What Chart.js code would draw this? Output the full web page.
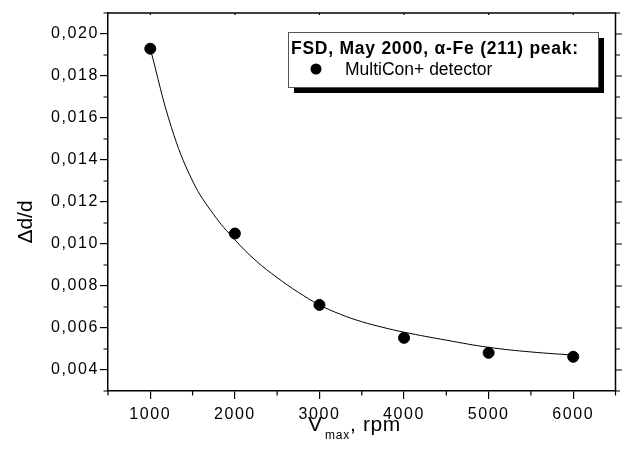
<!DOCTYPE html>
<html>
<head>
<meta charset="utf-8">
<script src="https://cdn.jsdelivr.net/npm/chart.js@4/dist/chart.umd.min.js"></script>
<style>
  html, body { margin: 0; padding: 0; background: #fff; }
  canvas { display: block; }
</style>
</head>
<body>
<canvas id="chart" width="622" height="463"></canvas>
<script>
// --- data ---
const rpm = [1000, 2000, 3000, 4000, 5000, 6000];
const deltaD = [0.0193, 0.0105, 0.0071, 0.00553, 0.00482, 0.00463];

// fitted curve
const fitRpm = [1000, 1250, 1500, 1750, 2000, 2250, 2500, 2750, 3000, 3250, 3500, 3750, 4000, 4500, 5000, 5500, 6000];
const fitDd = [0.0193, 0.01555, 0.0130, 0.0114, 0.0102, 0.0092, 0.0084, 0.0077, 0.0071, 0.00665, 0.0063, 0.00603, 0.0058, 0.00542, 0.00508, 0.00486, 0.00471];

const xTicks = [1000, 2000, 3000, 4000, 5000, 6000];
const xMinor = [500, 1500, 2500, 3500, 4500, 5500, 6500];
const yTicks = [0.004, 0.006, 0.008, 0.010, 0.012, 0.014, 0.016, 0.018, 0.020];
const yMinor = [0.003, 0.005, 0.007, 0.009, 0.011, 0.013, 0.015, 0.017, 0.019, 0.021];

const FONT = "'Liberation Sans', Arial, sans-serif";

// frame, minor ticks, titles and the boxed legend
const framePlugin = {
    id: 'frame',
    beforeDraw(chart) {
        chart.ctx.letterSpacing = '1.6px';
    },
    beforeDatasetsDraw(chart) {
        chart.ctx.letterSpacing = '0px';
    },
    afterDraw(chart) {
        const { ctx, chartArea: a, scales: { x, y } } = chart;
        ctx.save();
        ctx.strokeStyle = '#000';
        ctx.lineWidth = 1.5;
        ctx.beginPath();
        ctx.moveTo(a.left, a.top); ctx.lineTo(a.right, a.top); ctx.lineTo(a.right, a.bottom);
        ctx.stroke();

        ctx.lineWidth = 1.2;
        ctx.beginPath();
        xMinor.forEach(v => {
            const px = x.getPixelForValue(v);
            ctx.moveTo(px, a.bottom); ctx.lineTo(px, a.bottom + 4.5);
        });
        yMinor.forEach(v => {
            const py = y.getPixelForValue(v);
            ctx.moveTo(a.left - 4.5, py); ctx.lineTo(a.left, py);
            ctx.moveTo(a.right, py); ctx.lineTo(a.right + 4.5, py);
        });
        yTicks.forEach(v => {
            const py = y.getPixelForValue(v);
            ctx.moveTo(a.right, py); ctx.lineTo(a.right + 8, py);
        });
        xTicks.forEach(v => {
            const px = x.getPixelForValue(v);
            ctx.moveTo(px, a.top); ctx.lineTo(px, a.top + 2);
        });
        ctx.stroke();

        ctx.fillStyle = '#000';
        ctx.letterSpacing = '0px';

        // y title
        ctx.save();
        ctx.translate(26, 222);
        ctx.rotate(-Math.PI / 2);
        ctx.font = '21px ' + FONT;
        ctx.textAlign = 'center';
        ctx.textBaseline = 'middle';
        ctx.fillText('\u0394d/d', 0, 0);
        ctx.restore();

        // x title with subscript
        ctx.textBaseline = 'alphabetic';
        ctx.textAlign = 'left';
        const mainFont = '21px ' + FONT, subFont = '12px ' + FONT;
        ctx.font = mainFont;
        const wV = ctx.measureText('V').width + 3;
        ctx.font = subFont;
        ctx.letterSpacing = '0.8px';
        const wSub = ctx.measureText('max').width;
        let tx = 308;
        ctx.font = mainFont; ctx.letterSpacing = '0px';
        ctx.fillText('V', tx, 431);
        tx += wV;
        ctx.font = subFont; ctx.letterSpacing = '0.8px';
        ctx.fillText('max', tx, 439);
        tx += wSub;
        ctx.font = mainFont; ctx.letterSpacing = '0.6px';
        ctx.fillText(', rpm', tx, 431);

        // legend box with drop shadow
        const bx = 288, by = 32, bw = 310, bh = 55;
        ctx.letterSpacing = '0px';
        ctx.fillRect(bx + 6, by + 6, bw, bh);
        ctx.fillStyle = '#fff';
        ctx.fillRect(bx, by, bw, bh);
        ctx.lineWidth = 1;
        ctx.strokeStyle = '#555';
        ctx.strokeRect(bx + 0.5, by + 0.5, bw, bh);
        ctx.fillStyle = '#000';
        ctx.font = 'bold 17.5px ' + FONT;
        ctx.letterSpacing = '0.75px';
        ctx.fillText('FSD, May 2000, \u03b1-Fe (211) peak:', 291, 54);
        ctx.letterSpacing = '0px';
        ctx.font = '17.5px ' + FONT;
        ctx.fillText(chart.data.datasets[1].label, 345, 75);
        ctx.beginPath();
        ctx.arc(316, 69, 5.5, 0, Math.PI * 2);
        ctx.fill();
        ctx.restore();
    }
};

new Chart(document.getElementById('chart'), {
    type: 'scatter',
    data: {
        datasets: [
            {
                label: 'fit',
                data: fitRpm.map((v, i) => ({ x: v, y: fitDd[i] })),
                showLine: true,
                pointRadius: 0,
                borderColor: '#000',
                borderWidth: 1,
                tension: 0.4
            },
            {
                label: 'MultiCon+ detector',
                data: rpm.map((v, i) => ({ x: v, y: deltaD[i] })),
                pointRadius: 5.5,
                backgroundColor: '#000',
                borderColor: '#000'
            }
        ]
    },
    options: {
        responsive: false,
        animation: false,
        devicePixelRatio: 1,
        layout: { padding: { top: 13, right: 3, left: 0, bottom: 0 } },
        plugins: { legend: { display: false }, tooltip: { enabled: false } },
        scales: {
            x: {
                type: 'linear',
                min: 500, max: 6500,
                afterBuildTicks: s => { s.ticks = xTicks.map(v => ({ value: v })); },
                afterFit: s => { s.height = 72; },
                grid: { drawOnChartArea: false, tickLength: 8, color: '#000', lineWidth: 1.2 },
                border: { color: '#000', width: 1.5 },
                ticks: { color: '#000', font: { family: FONT, size: 16 }, padding: 6, maxRotation: 0, autoSkip: false, callback: v => String(v) }
            },
            y: {
                min: 0.003, max: 0.021,
                afterBuildTicks: s => { s.ticks = yTicks.map(v => ({ value: v })); },
                afterFit: s => { s.width = 108; },
                grid: { drawOnChartArea: false, tickLength: 8, color: '#000', lineWidth: 1.2 },
                border: { color: '#000', width: 1.5 },
                ticks: { color: '#000', font: { family: FONT, size: 16 }, padding: 1, autoSkip: false, callback: v => v.toFixed(3).replace('.', ',') }
            }
        }
    },
    plugins: [framePlugin]
});
</script>
</body>
</html>
